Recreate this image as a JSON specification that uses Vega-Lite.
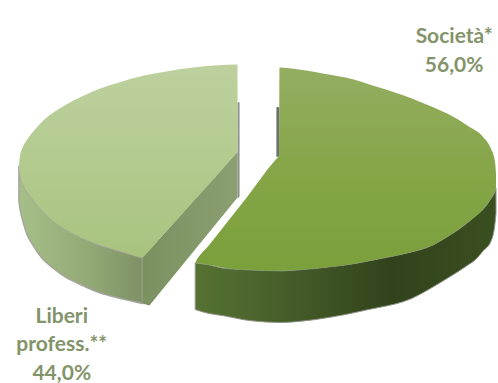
{
  "$schema": "https://vega.github.io/schema/vega-lite/v6.json",
  "autosize": {"type": "fit", "contains": "padding"},
  "width": 498,
  "height": 383,
  "padding": 0,
  "background": "white",
  "config": {"view": {"stroke": null}},
  "datasets": {
    "liberiRim": [
      {"across": 19, "upper": 167, "lower": 203},
      {"across": 20, "upper": 176, "lower": 210},
      {"across": 23, "upper": 186, "lower": 223},
      {"across": 27, "upper": 193, "lower": 236},
      {"across": 33, "upper": 201, "lower": 247},
      {"across": 42, "upper": 212, "lower": 260},
      {"across": 53, "upper": 222, "lower": 270},
      {"across": 67, "upper": 232, "lower": 280},
      {"across": 77, "upper": 237, "lower": 285},
      {"across": 100, "upper": 247, "lower": 295},
      {"across": 110, "upper": 250, "lower": 298},
      {"across": 130, "upper": 256, "lower": 303},
      {"across": 143, "upper": 259.5, "lower": 306}
    ],
    "liberiEdgeShade": [
      {"across": 238.5, "upper": 103, "lower": 200},
      {"across": 240.5, "upper": 103, "lower": 198}
    ],
    "liberiCut": [
      {"across": 143, "upper": 259.5, "lower": 306},
      {"across": 150, "upper": 252, "lower": 308},
      {"across": 238.5, "upper": 153, "lower": 199}
    ],
    "liberiFace": [
      {"across": 19, "upper": 167, "lower": 167},
      {"across": 20, "upper": 158, "lower": 176},
      {"across": 23, "upper": 148, "lower": 186},
      {"across": 27, "upper": 141, "lower": 193},
      {"across": 33, "upper": 133, "lower": 201},
      {"across": 42, "upper": 123, "lower": 212},
      {"across": 50, "upper": 116, "lower": 220},
      {"across": 67, "upper": 105, "lower": 232},
      {"across": 85, "upper": 96, "lower": 241},
      {"across": 100, "upper": 89.5, "lower": 247},
      {"across": 117, "upper": 84, "lower": 252},
      {"across": 130, "upper": 80, "lower": 256},
      {"across": 143, "upper": 76.5, "lower": 259.5},
      {"across": 143.5, "upper": 76.4, "lower": 259},
      {"across": 167, "upper": 72, "lower": 233},
      {"across": 190, "upper": 68.5, "lower": 207.5},
      {"across": 215, "upper": 66, "lower": 180},
      {"across": 238.5, "upper": 65, "lower": 153}
    ],
    "societaEdgeShade": [
      {"across": 277.5, "upper": 108, "lower": 158},
      {"across": 280.5, "upper": 108, "lower": 158}
    ],
    "societaRim": [
      {"across": 196, "upper": 265, "lower": 312},
      {"across": 210, "upper": 267, "lower": 316},
      {"across": 223, "upper": 270, "lower": 318},
      {"across": 250, "upper": 272, "lower": 323},
      {"across": 283, "upper": 273, "lower": 325},
      {"across": 300, "upper": 272, "lower": 324},
      {"across": 330, "upper": 269, "lower": 320},
      {"across": 347, "upper": 267, "lower": 317},
      {"across": 370, "upper": 263, "lower": 312},
      {"across": 380, "upper": 261, "lower": 310},
      {"across": 413, "upper": 254, "lower": 301},
      {"across": 430, "upper": 249, "lower": 292},
      {"across": 450, "upper": 238, "lower": 280},
      {"across": 470, "upper": 224, "lower": 267},
      {"across": 477, "upper": 218, "lower": 262},
      {"across": 485, "upper": 211, "lower": 253},
      {"across": 493, "upper": 200, "lower": 243},
      {"across": 497, "upper": 193, "lower": 225},
      {"across": 498, "upper": 190, "lower": 215}
    ],
    "societaFace": [
      {"across": 196, "upper": 265, "lower": 265},
      {"across": 196.5, "upper": 264, "lower": 265},
      {"across": 210, "upper": 247, "lower": 267},
      {"across": 230, "upper": 221.5, "lower": 270.5},
      {"across": 250, "upper": 196, "lower": 272},
      {"across": 280, "upper": 157.5, "lower": 273},
      {"across": 280.5, "upper": 157, "lower": 273},
      {"across": 280.6, "upper": 68, "lower": 273},
      {"across": 300, "upper": 70, "lower": 272},
      {"across": 330, "upper": 75, "lower": 269},
      {"across": 347, "upper": 78, "lower": 267},
      {"across": 380, "upper": 88, "lower": 261},
      {"across": 413, "upper": 99, "lower": 254},
      {"across": 430, "upper": 106, "lower": 249},
      {"across": 450, "upper": 115, "lower": 238},
      {"across": 470, "upper": 127, "lower": 224},
      {"across": 485, "upper": 138, "lower": 211},
      {"across": 493, "upper": 150, "lower": 200},
      {"across": 497, "upper": 163, "lower": 193},
      {"across": 498, "upper": 175, "lower": 190}
    ],
    "shares": [
      {"name": "Società*", "share": 56.0, "label": "Società*\n56,0%", "across": 456, "down": 37.5},
      {"name": "Liberi profess.**", "share": 44.0, "label": "Liberi\nprofess.**\n44,0%", "across": 62, "down": 319}
    ]
  },
  "encoding": {
    "x": {"field": "across", "type": "quantitative", "axis": null, "scale": {"domain": [0, 498], "nice": false, "zero": false}},
    "y": {"field": "upper", "type": "quantitative", "axis": null, "scale": {"domain": [0, 383], "reverse": true, "nice": false, "zero": false}},
    "y2": {"field": "lower"}
  },
  "layer": [
    {
      "data": {"name": "liberiEdgeShade"},
      "mark": {"type": "area", "orient": "vertical", "color": "#8c8c8c"}
    },
    {
      "data": {"name": "societaEdgeShade"},
      "mark": {"type": "area", "orient": "vertical", "color": "#6f6f6f"}
    },
    {
      "data": {"name": "liberiRim"},
      "mark": {
        "type": "area", "orient": "vertical", "interpolate": "monotone", "stroke": "#a5a59f", "strokeWidth": 1.5,
        "color": {"x1": 0, "y1": 0, "x2": 1, "y2": 0, "gradient": "linear", "stops": [
          {"offset": 0, "color": "#a6bf88"},
          {"offset": 0.55, "color": "#93aa76"},
          {"offset": 1, "color": "#7e9167"}
        ]}
      }
    },
    {
      "data": {"name": "liberiCut"},
      "mark": {
        "type": "area", "orient": "vertical",
        "color": {"x1": 0, "y1": 0, "x2": 1, "y2": 0, "gradient": "linear", "stops": [
          {"offset": 0, "color": "#7b9160"},
          {"offset": 1, "color": "#8b9f72"}
        ]}
      }
    },
    {
      "data": {"name": "liberiFace"},
      "mark": {
        "type": "area", "orient": "vertical", "interpolate": "monotone",
        "color": {"x1": 0, "y1": 0, "x2": 0, "y2": 1, "gradient": "linear", "stops": [
          {"offset": 0, "color": "#bdd09e"},
          {"offset": 0.5, "color": "#b3cb8f"},
          {"offset": 1, "color": "#a8c37e"}
        ]}
      }
    },
    {
      "data": {"name": "societaRim"},
      "mark": {
        "type": "area", "orient": "vertical", "interpolate": "monotone", "stroke": "#8f9488", "strokeWidth": 1,
        "color": {"x1": 0, "y1": 0, "x2": 1, "y2": 0, "gradient": "linear", "stops": [
          {"offset": 0, "color": "#567232"},
          {"offset": 0.35, "color": "#435a28"},
          {"offset": 0.65, "color": "#31431b"},
          {"offset": 1, "color": "#3a4f20"}
        ]}
      }
    },
    {
      "data": {"name": "societaFace"},
      "mark": {
        "type": "area", "orient": "vertical", "interpolate": "monotone",
        "color": {"x1": 0, "y1": 0, "x2": 0, "y2": 1, "gradient": "linear", "stops": [
          {"offset": 0, "color": "#94ae62"},
          {"offset": 0.45, "color": "#87a64a"},
          {"offset": 1, "color": "#7ba03b"}
        ]}
      }
    },
    {
      "data": {"name": "shares"},
      "mark": {"type": "text", "font": "Lato", "fontSize": 21, "fontWeight": "bold", "color": "#83936a", "lineBreak": "\n", "lineHeight": 28.5, "align": "center", "baseline": "middle"},
      "encoding": {
        "y": {"field": "down", "type": "quantitative", "axis": null},
        "y2": null,
        "text": {"field": "label"}
      }
    }
  ]
}
